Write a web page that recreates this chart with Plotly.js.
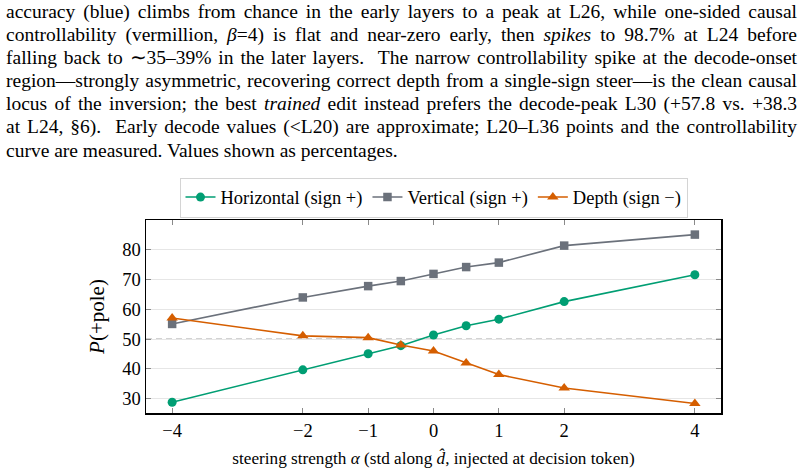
<!DOCTYPE html>
<html>
<head>
<meta charset="utf-8">
<script src="https://cdn.plot.ly/plotly-3.0.1.min.js"></script>
<style>
  html, body { margin: 0; padding: 0; background: #fff; }
  #wrap { position: relative; width: 804px; height: 476px; overflow: hidden; }
  #chart { position: absolute; left: 0; top: 0; width: 804px; height: 476px; }
  #para {
    position: absolute; left: 6px; top: 0; width: 791px;
    font-family: "Liberation Serif", "Times New Roman", serif;
    font-size: 19.5px; line-height: 23.1px; color: #000; z-index: 2;
  }
  #para .ln { text-align: justify; text-align-last: justify; white-space: nowrap; }
  #para .ln.last { text-align-last: left; }
</style>
</head>
<body>
<div id="wrap">
  <div id="chart"></div>
  <div id="para">
    <div class="ln">accuracy (blue) climbs from chance in the early layers to a peak at L26, while one-sided causal</div>
    <div class="ln">controllability (vermillion, <i>β</i>=4) is flat and near-zero early, then <i>spikes</i> to 98.7% at L24 before</div>
    <div class="ln">falling back to ∼35–39% in the later layers. &nbsp;The narrow controllability spike at the decode-onset</div>
    <div class="ln">region—strongly asymmetric, recovering correct depth from a single-sign steer—is the clean causal</div>
    <div class="ln">locus of the inversion; the best <i>trained</i> edit instead prefers the decode-peak L30 (+57.8 vs. +38.3</div>
    <div class="ln">at L24, §6). &nbsp;Early decode values (&lt;L20) are approximate; L20–L36 points and the controllability</div>
    <div class="ln last">curve are measured. Values shown as percentages.</div>
  </div>
</div>
<script>
// steering strength alpha (std units along the probe direction)
const alpha = [-4, -2, -1, -0.5, 0, 0.5, 1, 2, 4];

// P(+pole) in percent for each steered direction
const horizontal = [28.8, 39.7, 45.1, 47.8, 51.4, 54.5, 56.7, 62.6, 71.6];
const vertical   = [55.1, 64.0, 67.8, 69.5, 71.9, 74.2, 75.7, 81.4, 85.1];
const depth      = [57.1, 51.1, 50.5, 48.0, 46.0, 42.0, 38.1, 33.6, 28.4];

const seriesNames = ['Horizontal (sign +)', 'Vertical (sign +)', 'Depth (sign −)'];

const xTicks = [-4, -2, -1, 0, 1, 2, 4];
const yTicks = [30, 40, 50, 60, 70, 80];
const CHANCE = 50;

const SERIF = 'Liberation Serif, Times New Roman, serif';

function series(y, name, color, symbol, size) {
  return {
    x: alpha, y: y, name: name, type: 'scatter', mode: 'lines+markers',
    line: { color: color, width: 1.6 },
    marker: { color: color, symbol: symbol, size: size, line: { width: 0 } }
  };
}

const data = [
  series(horizontal, seriesNames[0], '#009E73', 'circle', 9),
  series(vertical,   seriesNames[1], '#6B717B', 'square', 8.5),
  series(depth,      seriesNames[2], '#D55E00', 'triangle-up', 10)
];

const layout = {
  width: 804, height: 476,
  margin: { l: 146, r: 83, t: 220, b: 63 },
  paper_bgcolor: '#fff', plot_bgcolor: '#fff',
  font: { family: SERIF, color: '#000', size: 17.5 },
  showlegend: true,
  legend: {
    orientation: 'h', x: 0.5, xanchor: 'center', y: 1.22, yanchor: 'top',
    bordercolor: '#d4d4d4', borderwidth: 1, bgcolor: '#fff',
    font: { family: SERIF, size: 18.5, color: '#000' },
    itemwidth: 30, tracegroupgap: 0
  },
  xaxis: {
    range: [-4.4, 4.4],
    tickvals: xTicks,
    ticks: 'inside', ticklen: 5, tickcolor: '#8a8a8a', tickwidth: 1,
    showline: true, linecolor: '#000', linewidth: 1.5, mirror: 'ticks',
    showgrid: false, zeroline: false,
    tickfont: { family: SERIF, size: 18.5 },
    title: {
      text: 'steering strength <i>α</i> (std along <i>d̂</i>, injected at decision token)',
      font: { family: SERIF, size: 17.2 }, standoff: 12
    }
  },
  yaxis: {
    range: [25.2, 90],
    tickvals: yTicks,
    ticks: 'inside', ticklen: 5, tickcolor: '#8a8a8a', tickwidth: 1,
    showline: true, linecolor: '#000', linewidth: 1.5, mirror: 'ticks',
    showgrid: true, gridcolor: '#e6e6e6', gridwidth: 1, zeroline: false,
    tickfont: { family: SERIF, size: 18.5 },
    title: { text: '<i>P</i>(+pole)', font: { family: SERIF, size: 21 }, standoff: 12 }
  },
  shapes: [{
    type: 'line', xref: 'paper', x0: 0, x1: 1, yref: 'y', y0: CHANCE, y1: CHANCE,
    line: { color: '#a6a6a6', width: 1.5, dash: '6px,4px' }, layer: 'below'
  }]
};

Plotly.newPlot('chart', data, layout, { displayModeBar: false, staticPlot: true });
</script>
</body>
</html>
